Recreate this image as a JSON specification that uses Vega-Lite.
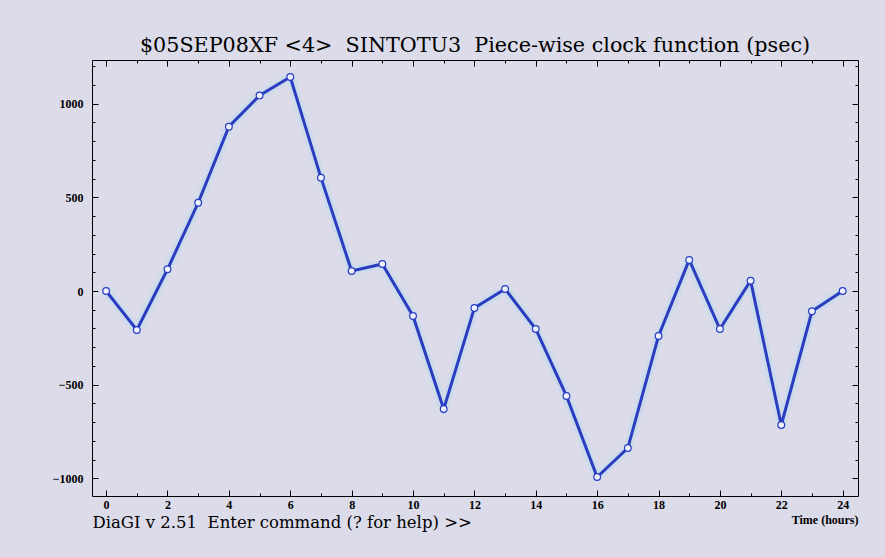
{
  "$schema": "https://vega.github.io/schema/vega-lite/v6.json",
  "width": 766,
  "height": 436,
  "autosize": {"type": "none"},
  "padding": {"left": 92, "top": 60, "right": 27, "bottom": 61},
  "background": "#dbdbe9",
  "title": {
    "text": "$05SEP08XF\u00a0<4>\u00a0\u00a0SINTOTU3\u00a0\u00a0Piece-wise clock function (psec)",
    "font": "DejaVu Serif",
    "fontSize": 20.7,
    "fontWeight": "normal",
    "color": "black",
    "anchor": "middle",
    "offset": 3
  },
  "data": {
    "values": [
      {"hour": 0, "clock": 0},
      {"hour": 1, "clock": -208},
      {"hour": 2, "clock": 116},
      {"hour": 3, "clock": 471},
      {"hour": 4, "clock": 877},
      {"hour": 5, "clock": 1044},
      {"hour": 6, "clock": 1142},
      {"hour": 7, "clock": 605},
      {"hour": 8, "clock": 107},
      {"hour": 9, "clock": 144},
      {"hour": 10, "clock": -133},
      {"hour": 11, "clock": -630},
      {"hour": 12, "clock": -91},
      {"hour": 13, "clock": 11},
      {"hour": 14, "clock": -203},
      {"hour": 15, "clock": -560},
      {"hour": 16, "clock": -993},
      {"hour": 17, "clock": -838},
      {"hour": 18, "clock": -240},
      {"hour": 19, "clock": 166},
      {"hour": 20, "clock": -203},
      {"hour": 21, "clock": 55},
      {"hour": 22, "clock": -715},
      {"hour": 23, "clock": -108},
      {"hour": 24, "clock": 0}
    ]
  },
  "layer": [
    {
      "mark": {"type": "line", "color": "#b9dcee", "strokeWidth": 9, "opacity": 0.45, "strokeJoin": "round", "strokeCap": "round"},
      "encoding": {
        "x": {"field": "hour", "type": "quantitative", "scale": {"domain": [-0.46, 24.5], "nice": false, "zero": false}, "axis": null},
        "y": {"field": "clock", "type": "quantitative", "scale": {"domain": [-1094, 1233], "nice": false, "zero": false}, "axis": null}
      }
    },
    {
      "mark": {"type": "line", "color": "#2a3cc0", "strokeWidth": 3},
      "encoding": {
        "x": {
          "field": "hour", "type": "quantitative",
          "scale": {"domain": [-0.46, 24.5], "nice": false, "zero": false},
          "axis": {
            "orient": "bottom",
            "values": [0, 2, 4, 6, 8, 10, 12, 14, 16, 18, 20, 22, 24],
            "format": "d",
            "tickSize": -6,
            "labelPadding": 9,
            "labelOverlap": false,
            "labelFlush": false,
            "title": "Time (hours)",
            "titleFont": "Liberation Serif",
            "titleFontWeight": "bold",
            "titleFontSize": 12,
            "titleColor": "black",
            "titleAnchor": "end",
            "titleAlign": "right",
            "titleBaseline": "alphabetic",
            "titleX": 766,
            "titleY": 27
          }
        },
        "y": {
          "field": "clock", "type": "quantitative",
          "scale": {"domain": [-1094, 1233], "nice": false, "zero": false},
          "axis": {
            "orient": "left",
            "values": [-1000, -500, 0, 500, 1000],
            "format": "d",
            "tickSize": -6,
            "labelPadding": 15,
            "labelOverlap": false,
            "labelFlush": false,
            "title": "DiaGI v 2.51\u00a0\u00a0Enter command (? for help) >>",
            "titleFont": "DejaVu Serif",
            "titleFontWeight": "normal",
            "titleFontSize": 16.5,
            "titleColor": "black",
            "titleAngle": 0,
            "titleAlign": "left",
            "titleBaseline": "alphabetic",
            "titleX": 0,
            "titleY": 467.5
          }
        }
      }
    },
    {
      "mark": {"type": "point", "shape": "circle", "filled": true, "fill": "#eef0ff", "stroke": "#2a3cc0", "strokeWidth": 1.2, "size": 45, "opacity": 1},
      "encoding": {
        "x": {
          "field": "hour", "type": "quantitative",
          "scale": {"domain": [-0.46, 24.5], "nice": false, "zero": false},
          "axis": {"orient": "bottom", "values": [1, 3, 5, 7, 9, 11, 13, 15, 17, 19, 21, 23], "tickSize": -3, "labels": false, "title": null}
        },
        "y": {
          "field": "clock", "type": "quantitative",
          "scale": {"domain": [-1094, 1233], "nice": false, "zero": false},
          "axis": {"orient": "left", "values": [-900, -800, -700, -600, -400, -300, -200, -100, 100, 200, 300, 400, 600, 700, 800, 900, 1100, 1200], "tickSize": -3, "labels": false, "title": null}
        }
      }
    },
    {
      "mark": {"type": "point", "opacity": 0},
      "encoding": {
        "x": {
          "field": "hour", "type": "quantitative",
          "scale": {"domain": [-0.46, 24.5], "nice": false, "zero": false},
          "axis": {"orient": "top", "values": [0, 2, 4, 6, 8, 10, 12, 14, 16, 18, 20, 22, 24], "tickSize": -6, "labels": false, "title": null}
        },
        "y": {
          "field": "clock", "type": "quantitative",
          "scale": {"domain": [-1094, 1233], "nice": false, "zero": false},
          "axis": {"orient": "right", "values": [-1000, -500, 0, 500, 1000], "tickSize": -6, "labels": false, "title": null}
        }
      }
    },
    {
      "mark": {"type": "point", "opacity": 0},
      "encoding": {
        "x": {
          "field": "hour", "type": "quantitative",
          "scale": {"domain": [-0.46, 24.5], "nice": false, "zero": false},
          "axis": {"orient": "top", "values": [1, 3, 5, 7, 9, 11, 13, 15, 17, 19, 21, 23], "tickSize": -3, "labels": false, "title": null}
        },
        "y": {
          "field": "clock", "type": "quantitative",
          "scale": {"domain": [-1094, 1233], "nice": false, "zero": false},
          "axis": {"orient": "right", "values": [-900, -800, -700, -600, -400, -300, -200, -100, 100, 200, 300, 400, 600, 700, 800, 900, 1100, 1200], "tickSize": -3, "labels": false, "title": null}
        }
      }
    }
  ],
  "resolve": {"axis": {"x": "independent", "y": "independent"}},
  "config": {
    "view": {"stroke": "black", "strokeWidth": 1},
    "axis": {
      "grid": false,
      "domain": false,
      "tickColor": "black",
      "tickWidth": 1,
      "labelColor": "black",
      "labelFont": "Liberation Serif",
      "labelFontWeight": "bold",
      "labelFontSize": 12
    }
  }
}
